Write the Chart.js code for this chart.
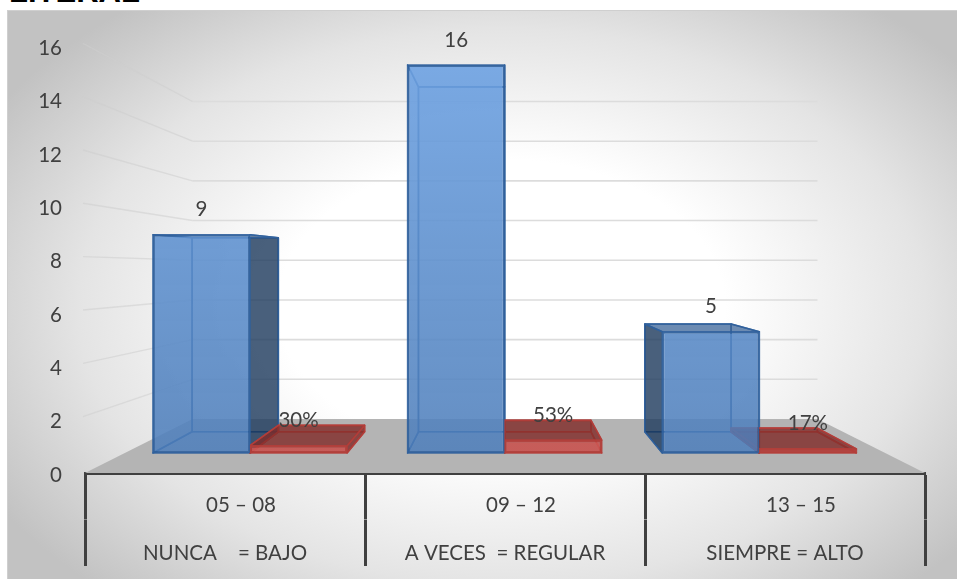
<!DOCTYPE html>
<html>
<head>
<meta charset="utf-8">
<script src="https://cdn.jsdelivr.net/npm/chart.js@4"></script>
<style>
  html, body { margin: 0; padding: 0; background: #fff; overflow: hidden; }
  #title { position: absolute; left: 9px; top: -24px; font: bold 31px/31px "Liberation Sans", sans-serif; color: #000; }
  #panel {
    position: absolute; left: 7px; top: 10px; width: 950px; height: 569px;
    box-sizing: border-box; border-top: 1px solid #cfcfcf; border-left: 1px solid #cfcfcf;
    background: radial-gradient(ellipse 62% 68% at 52% 52%, #fff 0%, #fff 38%, #e4e4e4 72%, #c2c2c2 100%);
  }
  canvas { position: absolute; left: 0; top: 0; }
</style>
</head>
<body>
<div id="title">LITERAL</div>
<div id="panel"></div>
<canvas id="chart" width="957" height="579"></canvas>
<script>
const rangeLabels = ["05 – 08", "09 – 12", "13 – 15"];
const levelLabels = ["NUNCA    = BAJO", "A VECES  = REGULAR", "SIEMPRE = ALTO"];
const counts = [9, 16, 5];
const shares = [0.3, 0.53, 0.17];
const axisTickStep = 2;

// the picture is a 3D box, everything recedes to one vanishing point
const vp = { x: 505, y: 262 };
const wallDepth = 0.744; // front axis plane -> back wall
const barDepth = 0.889; // front of the bars -> back of the bars

const area = { left: 85, right: 925, top: 40, bottom: 473 };
const frontUnit = 26.67;
const barUnit = 24.25;
const barBase = 453;
const barBand = 254.67;
const barCenter0 = 250;

const fontFamily = "Lato";
const fontSize = 20.5;
const textColor = "#404040";

const blue = { top: "rgba(112,164,228,0.9)", bottom: "rgba(74,122,182,0.84)", inner: "rgba(170,205,245,0.25)", roof: "rgba(60,100,150,0.72)", dark: "rgba(22,50,84,0.76)", line: "rgba(48,96,156,0.9)" };
const red = { top: "rgba(205,88,84,0.86)", bottom: "rgba(205,88,84,0.86)", inner: "rgba(130,44,42,0.42)", roof: "rgba(128,44,42,0.68)", dark: "rgba(128,44,42,0.68)", line: "rgba(180,62,58,0.9)" };

function back(x, y, k) {
  return [vp.x + (x - vp.x) * k, vp.y + (y - vp.y) * k];
}

function poly(ctx, pts, fill, stroke, width) {
  ctx.beginPath();
  pts.forEach((p, i) => (i ? ctx.lineTo(p[0], p[1]) : ctx.moveTo(p[0], p[1])));
  ctx.closePath();
  if (fill) {
    ctx.fillStyle = fill;
    ctx.fill();
  }
  if (stroke) {
    ctx.strokeStyle = stroke;
    ctx.lineWidth = width;
    ctx.lineJoin = "round";
    ctx.stroke();
  }
}

function drawWalls(chart) {
  const ctx = chart.ctx;
  const { left, right, bottom } = chart.chartArea;
  const yFront = chart.scales.yFront;

  ctx.save();
  yFront.ticks.forEach((t) => {
    if (t.value === 0) return;
    const y = yFront.getPixelForValue(t.value);
    const p = back(left, y, wallDepth);
    const q = back(right, y, wallDepth);
    ctx.strokeStyle = "#dcdcdc";
    ctx.lineWidth = 1.6;
    ctx.beginPath();
    ctx.moveTo(p[0], p[1]);
    ctx.lineTo(q[0], q[1]);
    ctx.stroke();
    ctx.strokeStyle = "rgba(205,205,205,0.55)";
    ctx.lineWidth = 1.4;
    ctx.beginPath();
    ctx.moveTo(left - 2, y - 3);
    ctx.lineTo(p[0], p[1]);
    ctx.stroke();
  });
  poly(ctx, [[left, bottom], [right, bottom], back(right, bottom, wallDepth), back(left, bottom, wallDepth)], "#b4b4b4");
  ctx.restore();
}

function drawBarFaces(chart, index, c) {
  const ctx = chart.ctx;
  chart.getDatasetMeta(index).data.forEach((bar) => {
    const { x, y, base, width } = bar.getProps(["x", "y", "base", "width"], true);
    const l = x - width / 2;
    const r = x + width / 2;
    const lt = back(l, y, barDepth);
    const rt = back(r, y, barDepth);
    const lb = back(l, base, barDepth);
    const rb = back(r, base, barDepth);
    const w = 1.6;

    poly(ctx, [lt, rt, rb, lb], c.inner, c.line, w);
    poly(ctx, [[l, base], [r, base], rb, lb], c.inner, c.line, w);
    poly(ctx, [[l, y], [l, base], lb, lt], l > vp.x ? c.dark : c.inner, c.line, w);
    poly(ctx, [[r, y], [r, base], rb, rt], r < vp.x ? c.dark : c.inner, c.line, w);
    poly(ctx, [[l, y], [r, y], rt, lt], y > vp.y ? c.roof : c.inner, c.line, w);
  });
}

const box3d = {
  id: "box3d",
  beforeDatasetsDraw(chart) {
    drawWalls(chart);
    chart.ctx.save();
    drawBarFaces(chart, 0, blue);
    drawBarFaces(chart, 1, red);
    chart.ctx.restore();
  },
  afterDatasetsDraw(chart) {
    const ctx = chart.ctx;
    ctx.save();
    ctx.font = fontSize + "px " + fontFamily;
    ctx.fillStyle = textColor;
    ctx.textAlign = "center";
    ctx.textBaseline = "middle";
    chart.getDatasetMeta(0).data.forEach((bar, i) => {
      ctx.fillText(counts[i], bar.x, bar.y - 25);
    });
    chart.getDatasetMeta(1).data.forEach((bar, i) => {
      ctx.fillText(Math.round(shares[i] * 100) + "%", bar.x, bar.y - 25);
    });
    ctx.restore();
  },
};

function frontFill(c) {
  return (context) => {
    const a = context.chart.chartArea;
    if (!a) return c.bottom;
    const g = context.chart.ctx.createLinearGradient(0, a.top, 0, a.bottom);
    g.addColorStop(0, c.top);
    g.addColorStop(1, c.bottom);
    return g;
  };
}

function axisRow(labels, weight, height, labelOffset) {
  return {
    type: "category",
    labels: labels,
    position: "bottom",
    offset: true,
    weight: weight,
    afterFit: (s) => {
      s.height = height;
    },
    border: { display: weight === 0, color: textColor, width: 3 },
    grid: {
      offset: true,
      drawOnChartArea: false,
      color: textColor,
      tickColor: textColor,
      tickWidth: 3,
      tickLength: 46.5,
    },
    ticks: {
      autoSkip: false,
      maxRotation: 0,
      padding: weight === 0 ? -26 : -25,
      labelOffset: labelOffset,
      color: textColor,
      font: { family: fontFamily, size: fontSize },
    },
  };
}

new Chart(document.getElementById("chart").getContext("2d"), {
  type: "bar",
  data: {
    datasets: [
      {
        data: counts.map((v, i) => ({ x: i, y: v })),
        xAxisID: "xBars",
        yAxisID: "yBars",
        backgroundColor: frontFill(blue),
        borderColor: blue.line,
        borderWidth: 2,
        borderSkipped: false,
        categoryPercentage: 0.762,
        barPercentage: 1,
      },
      {
        data: shares.map((v, i) => ({ x: i, y: v })),
        xAxisID: "xBars",
        yAxisID: "yBars",
        backgroundColor: frontFill(red),
        borderColor: red.line,
        borderWidth: 2,
        borderSkipped: false,
        categoryPercentage: 0.762,
        barPercentage: 1,
      },
    ],
  },
  options: {
    responsive: false,
    animation: false,
    layout: { padding: { left: 0, top: area.top, right: 957 - area.right, bottom: 0 } },
    plugins: { legend: { display: false }, tooltip: { enabled: false } },
    scales: {
      xBars: {
        type: "linear",
        display: false,
        offset: false,
        min: (area.left - barCenter0) / barBand,
        max: (area.right - barCenter0) / barBand,
        ticks: { stepSize: 1, includeBounds: false },
      },
      yBars: {
        type: "linear",
        display: false,
        min: (barBase - area.bottom) / barUnit,
        max: (barBase - area.top) / barUnit,
      },
      xRange: axisRow(rangeLabels, 0, 46.5, 16),
      xLevel: axisRow(levelLabels, 1, 59.5, 0),
      yFront: {
        type: "linear",
        position: "left",
        min: 0,
        max: (area.bottom - area.top) / frontUnit,
        afterFit: (s) => {
          s.width = area.left;
        },
        border: { display: false },
        grid: { display: false, drawTicks: false },
        ticks: {
          stepSize: axisTickStep,
          includeBounds: false,
          padding: 23,
          labelOffset: 2,
          color: textColor,
          font: { family: fontFamily, size: fontSize },
        },
      },
    },
  },
  plugins: [box3d],
});
</script>
</body>
</html>
